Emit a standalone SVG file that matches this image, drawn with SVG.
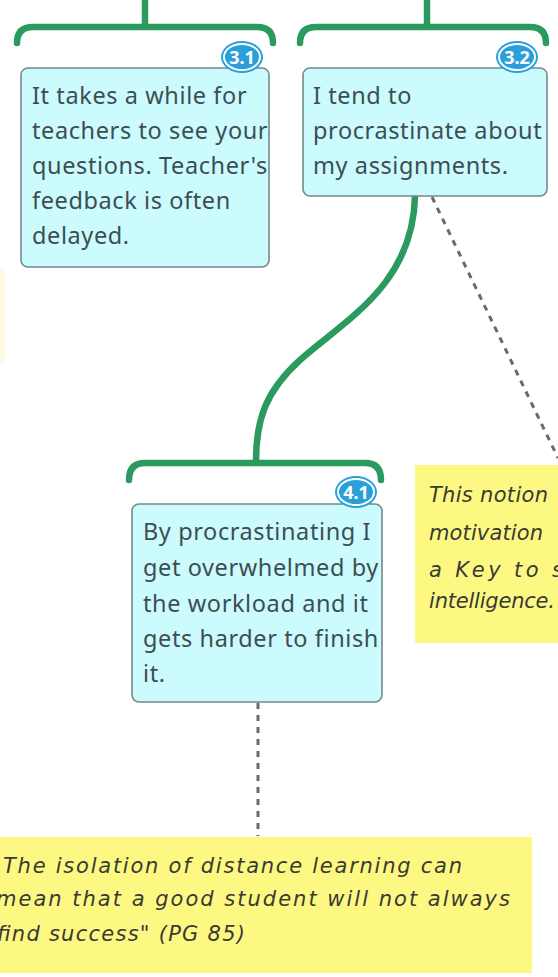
<svg xmlns="http://www.w3.org/2000/svg" width="558" height="977" viewBox="0 0 558 977">
  <style>
    .branch { fill: none; stroke: #2b9a5e; stroke-width: 6.5; stroke-linecap: round; stroke-linejoin: round; }
    .link { fill: none; stroke: #6a6a6a; stroke-width: 3; stroke-dasharray: 6 6; }
    .topic { fill: #cbfbfd; stroke: #74898b; stroke-width: 1.6; }
    .label { font-family: "Noto Sans", "Open Sans", sans-serif; font-size: 23.5px; letter-spacing: 0.6px; fill: #3d4e53; }
    .badge-bg { fill: #2b9fd9; }
    .badge-ring { fill: none; stroke: #ffffff; stroke-width: 2; }
    .badge-txt { font-family: "Noto Sans", "Open Sans", sans-serif; font-size: 18px; font-weight: bold; fill: #ffffff; text-anchor: middle; }
    .note { fill: #fdf882; }
    .hand { font-family: "DejaVu Sans", "Liberation Sans", sans-serif; font-style: italic; font-size: 21px; fill: #3a3a35; }
  </style>

  <rect width="558" height="977" fill="#ffffff"/>
  <!-- edge of an off-canvas note -->
  <rect x="0" y="268" width="5" height="95" fill="#fffae6"/>

  <!-- connectors -->
  <g id="connectors">
    <path class="branch" d="M145,0 V26 M17,43 Q17,27 33,27 H257 Q273,27 273,43"/>
    <path class="branch" d="M427,0 V26 M300,43 Q300,27 316,27 H530 Q546,27 546,43"/>
    <path class="branch" d="M415,196 C413,285 345,320 300,360 C265,392 256,420 256,462"/>
    <path class="branch" d="M129,480 Q129,463 145,463 H365 Q381,463 381,480"/>
    <path class="link" d="M432,197 L558,458"/>
    <path class="link" d="M258,703 V836"/>
  </g>

  <!-- topic 3.1 -->
  <g id="topic-3-1">
    <rect class="topic" x="21" y="68" width="248" height="199" rx="7"/>
    <text class="label" x="32" y="104">It takes a while for</text>
    <text class="label" x="32" y="139">teachers to see your</text>
    <text class="label" x="32" y="174">questions. Teacher's</text>
    <text class="label" x="32" y="209">feedback is often</text>
    <text class="label" x="32" y="244">delayed.</text>
    <g id="badge-3-1">
      <ellipse class="badge-bg" cx="242" cy="57" rx="21" ry="16"/>
      <ellipse class="badge-ring" cx="242" cy="57" rx="18" ry="13"/>
      <text class="badge-txt" x="242" y="63.5">3.1</text>
    </g>
  </g>

  <!-- topic 3.2 -->
  <g id="topic-3-2">
    <rect class="topic" x="303" y="68" width="244" height="128" rx="7"/>
    <text class="label" x="313" y="104">I tend to</text>
    <text class="label" x="313" y="139">procrastinate about</text>
    <text class="label" x="313" y="174">my assignments.</text>
    <g id="badge-3-2">
      <ellipse class="badge-bg" cx="517" cy="57" rx="21" ry="16"/>
      <ellipse class="badge-ring" cx="517" cy="57" rx="18" ry="13"/>
      <text class="badge-txt" x="517" y="63.5">3.2</text>
    </g>
  </g>

  <!-- topic 4.1 -->
  <g id="topic-4-1">
    <rect class="topic" x="132" y="504" width="250" height="198" rx="7"/>
    <text class="label" x="143" y="540">By procrastinating I</text>
    <text class="label" x="143" y="576">get overwhelmed by</text>
    <text class="label" x="143" y="612">the workload and it</text>
    <text class="label" x="143" y="647">gets harder to finish</text>
    <text class="label" x="143" y="682">it.</text>
    <g id="badge-4-1">
      <ellipse class="badge-bg" cx="356" cy="492" rx="21" ry="16"/>
      <ellipse class="badge-ring" cx="356" cy="492" rx="18" ry="13"/>
      <text class="badge-txt" x="356" y="498.5">4.1</text>
    </g>
  </g>

  <!-- note beside 3.2 -->
  <g id="note-motivation">
    <rect class="note" x="415" y="465" width="150" height="178"/>
    <text class="hand" x="429" y="502" textLength="119" lengthAdjust="spacing">This notion</text>
    <text class="hand" x="429" y="540" textLength="114" lengthAdjust="spacing">motivation</text>
    <text class="hand" x="429" y="577" textLength="134" lengthAdjust="spacing">a Key to s</text>
    <text class="hand" x="429" y="608" textLength="126" lengthAdjust="spacing">intelligence.</text>
  </g>

  <!-- note under 4.1 -->
  <g id="note-isolation">
    <rect class="note" x="-2" y="837" width="534" height="136"/>
    <text class="hand" x="3" y="873" textLength="459" lengthAdjust="spacing">The isolation of distance learning can</text>
    <text class="hand" x="-4" y="906" textLength="514" lengthAdjust="spacing">mean that a good student will not always</text>
    <text class="hand" x="-3" y="941" textLength="248" lengthAdjust="spacing">find success" (PG 85)</text>
  </g>
</svg>
